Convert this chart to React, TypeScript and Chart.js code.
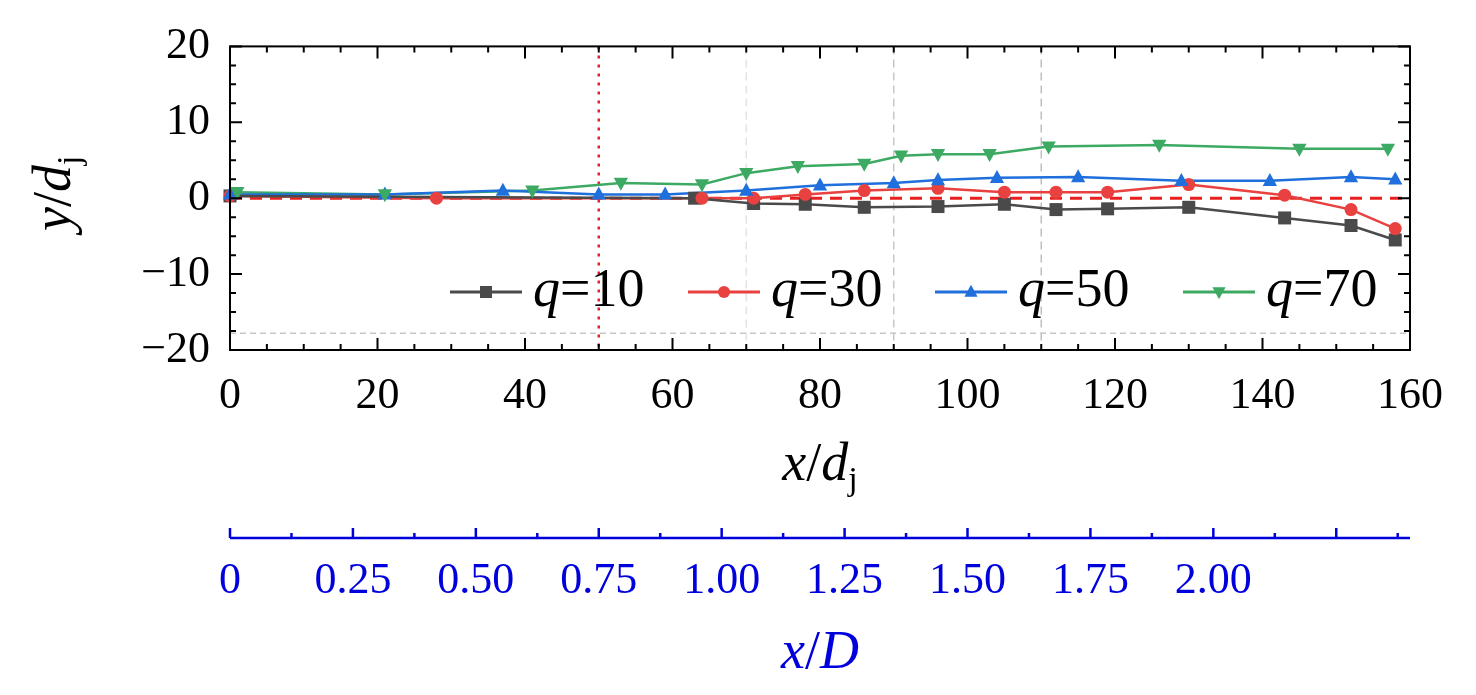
import React, { useEffect, useRef } from "react";
import { Chart, registerables } from "chart.js";
Chart.register(...registerables);

const seriesNames = ["10", "30", "50", "70"];
const colors = ["#4a4a4a", "#e8413f", "#1f6fdc", "#3daa63"];
const markers = ["rect", "circle", "triangle", "triangleDown"];
const q10X = [0, 63, 71, 78, 86, 96, 105, 112, 119, 130, 143, 152, 158];
const q10Y = [0.3, 0, -0.7, -0.8, -1.2, -1.1, -0.8, -1.5, -1.4, -1.2, -2.6, -3.6, -5.5];
const q30X = [0, 28, 64, 71, 78, 86, 96, 105, 112, 119, 130, 143, 152, 158];
const q30Y = [0.3, 0, 0, 0, 0.5, 1, 1.3, 0.8, 0.8, 0.8, 1.8, 0.4, -1.5, -4];
const q50X = [0, 21, 37, 50, 59, 70, 80, 90, 96, 104, 115, 129, 141, 152, 158];
const q50Y = [0.5, 0.5, 1, 0.5, 0.5, 1, 1.7, 2, 2.4, 2.7, 2.8, 2.3, 2.3, 2.8, 2.5];
const q70X = [1, 21, 41, 53, 64, 70, 77, 86, 91, 96, 103, 111, 126, 145, 157];
const q70Y = [0.8, 0.5, 1, 2, 1.8, 3.3, 4.2, 4.5, 5.6, 5.8, 5.8, 6.8, 7, 6.5, 6.5];
const xsAll = [q10X, q30X, q50X, q70X];
const ysAll = [q10Y, q30Y, q50Y, q70Y];
const xDMax = 2.4;
const SERIF = "'Liberation Serif', 'DejaVu Serif', serif";

function drawMarker(ctx: CanvasRenderingContext2D, kind: string, x: number, y: number, r: number) {
  ctx.beginPath();
  if (kind === "rect") ctx.rect(x - r, y - r, 2 * r, 2 * r);
  else if (kind === "circle") ctx.arc(x, y, r, 0, Math.PI * 2);
  else if (kind === "triangle") { ctx.moveTo(x, y - r * 1.2); ctx.lineTo(x + r * 1.1, y + r * 0.8); ctx.lineTo(x - r * 1.1, y + r * 0.8); ctx.closePath(); }
  else { ctx.moveTo(x, y + r * 1.2); ctx.lineTo(x + r * 1.1, y - r * 0.8); ctx.lineTo(x - r * 1.1, y - r * 0.8); ctx.closePath(); }
  ctx.fill();
}

const deco = {
  id: "deco",
  beforeDatasetsDraw(chart: any) {
    const { ctx, chartArea: a, scales } = chart;
    const x = scales.x, y = scales.y;
    ctx.save();
    ctx.lineWidth = 1.5;
    const vline = (v: number, col: string, dash: number[]) => {
      ctx.strokeStyle = col; ctx.setLineDash(dash); ctx.beginPath();
      ctx.moveTo(x.getPixelForValue(v), a.top); ctx.lineTo(x.getPixelForValue(v), a.bottom); ctx.stroke();
    };
    vline(70, "#e4e4e4", [8, 5]);
    vline(90, "#c8c8c8", [8, 5]);
    vline(110, "#c0c0c0", [8, 5]);
    ctx.strokeStyle = "#c8c8c8"; ctx.setLineDash([6, 4]); ctx.beginPath();
    ctx.moveTo(a.left, y.getPixelForValue(-17.8)); ctx.lineTo(a.right, y.getPixelForValue(-17.8)); ctx.stroke();
    ctx.lineWidth = 2.5; ctx.strokeStyle = "#e82020"; ctx.setLineDash([3, 6]);
    ctx.beginPath(); ctx.moveTo(x.getPixelForValue(50), a.top); ctx.lineTo(x.getPixelForValue(50), a.bottom); ctx.stroke();
    ctx.setLineDash([12, 8]); ctx.lineWidth = 3;
    ctx.beginPath(); ctx.moveTo(a.left, y.getPixelForValue(0)); ctx.lineTo(a.right, y.getPixelForValue(0)); ctx.stroke();
    ctx.restore();
  },
  afterDraw(chart: any) {
    const { ctx, chartArea: a, scales } = chart;
    const x = scales.x, y = scales.y, x2 = scales.x2;
    ctx.save();
    ctx.strokeStyle = "#000"; ctx.lineWidth = 2; ctx.setLineDash([]);
    ctx.strokeRect(a.left, a.top, a.right - a.left, a.bottom - a.top);
    for (let v = 0; v <= 160; v += 5) {
      const p = x.getPixelForValue(v); const L = v % 20 === 0 ? 12 : 6;
      ctx.beginPath(); ctx.moveTo(p, a.bottom); ctx.lineTo(p, a.bottom - L);
      ctx.moveTo(p, a.top); ctx.lineTo(p, a.top + L); ctx.stroke();
    }
    for (let v = -20; v <= 20; v += 2.5) {
      const p = y.getPixelForValue(v); const L = v % 10 === 0 ? 12 : 6;
      ctx.beginPath(); ctx.moveTo(a.left, p); ctx.lineTo(a.left + L, p);
      ctx.moveTo(a.right, p); ctx.lineTo(a.right - L, p); ctx.stroke();
    }
    ctx.strokeStyle = "#0000dd"; ctx.lineWidth = 2.5;
    const ay = x2.top + 1;
    ctx.beginPath(); ctx.moveTo(a.left, ay); ctx.lineTo(a.right, ay); ctx.stroke();
    for (let v = 0; v <= 2.4; v += 0.125) {
      const p = x2.getPixelForValue(v); const L = Math.round(v * 8) % 2 === 0 ? 10 : 5;
      ctx.beginPath(); ctx.moveTo(p, ay); ctx.lineTo(p, ay - L); ctx.stroke();
    }
    const F = 54, FS = 34;
    const italicSub = (cx: number, cy: number, a1: string, mid: string, sub: string, col: string) => {
      ctx.fillStyle = col; ctx.textBaseline = "alphabetic";
      ctx.font = `italic ${F}px ${SERIF}`;
      const w1 = ctx.measureText(a1).width;
      ctx.font = `${F}px ${SERIF}`; const wm = ctx.measureText("/").width;
      ctx.font = `italic ${F}px ${SERIF}`; const w2 = ctx.measureText(mid).width;
      ctx.font = `${FS}px ${SERIF}`; const w3 = sub ? ctx.measureText(sub).width : 0;
      let sx = cx - (w1 + wm + w2 + w3) / 2;
      ctx.textAlign = "left";
      ctx.font = `italic ${F}px ${SERIF}`; ctx.fillText(a1, sx, cy); sx += w1;
      ctx.font = `${F}px ${SERIF}`; ctx.fillText("/", sx, cy); sx += wm;
      ctx.font = `italic ${F}px ${SERIF}`; ctx.fillText(mid, sx, cy); sx += w2;
      if (sub) { ctx.font = `${FS}px ${SERIF}`; ctx.fillText(sub, sx, cy + 10); }
    };
    italicSub((a.left + a.right) / 2, 480 - 8, "x", "d", "j", "#000");
    italicSub((a.left + a.right) / 2, 668 - 8, "x", "D", "", "#0000dd");
    ctx.save(); ctx.translate(62, (a.top + a.bottom) / 2 - 5); ctx.rotate(-Math.PI / 2);
    italicSub(0, 0, "y", "d", "j", "#000"); ctx.restore();
    const ly = 292 - 8;
    const lx = [450, 688, 935, 1183].map(v => v - 8);
    seriesNames.forEach((n, i) => {
      ctx.strokeStyle = colors[i]; ctx.fillStyle = colors[i]; ctx.lineWidth = 3;
      ctx.beginPath(); ctx.moveTo(lx[i], ly); ctx.lineTo(lx[i] + 72, ly); ctx.stroke();
      drawMarker(ctx, markers[i], lx[i] + 36, ly, 6);
      ctx.fillStyle = "#000"; ctx.textAlign = "left"; ctx.textBaseline = "middle";
      ctx.font = `italic ${F}px ${SERIF}`; ctx.fillText("q", lx[i] + 83, ly);
      const wq = ctx.measureText("q").width;
      ctx.font = `${F}px ${SERIF}`; ctx.fillText("=" + n, lx[i] + 83 + wq, ly);
    });
    ctx.restore();
  },
};

const markerPlugin = {
  id: "mk",
  afterDatasetsDraw(chart: any) {
    const { ctx } = chart;
    ctx.save();
    chart.data.datasets.forEach((ds: any, i: number) => {
      const meta = chart.getDatasetMeta(i);
      ctx.fillStyle = colors[i];
      meta.data.forEach((pt: any) => drawMarker(ctx, markers[i], pt.x, pt.y, 6.5));
    });
    ctx.restore();
  },
};

export default function App() {
  const ref = useRef<HTMLCanvasElement>(null);
  useEffect(() => {
    const chart = new Chart(ref.current!, {
      type: "scatter",
      data: {
        datasets: seriesNames.map((n, i) => ({
          label: "q=" + n,
          data: xsAll[i].map((xv, k) => ({ x: xv, y: ysAll[i][k] })),
          showLine: true,
          borderColor: colors[i],
          backgroundColor: colors[i],
          borderWidth: 2.5,
          pointRadius: 0,
        })),
      },
      options: {
        animation: false,
        responsive: false,
        layout: { padding: { top: 7, right: 58 } },
        plugins: { legend: { display: false }, tooltip: { enabled: false } },
        scales: {
          x: {
            type: "linear", min: 0, max: 160, position: "bottom",
            grid: { display: false }, border: { display: false },
            ticks: { stepSize: 20, color: "#000", font: { size: 44, family: SERIF }, padding: 12, maxRotation: 0 },
            afterFit: (s: any) => { s.height = 187; },
          },
          x2: {
            type: "linear", min: 0, max: xDMax, position: "bottom",
            grid: { display: false }, border: { display: false },
            ticks: {
              stepSize: 0.25, color: "#0000dd", font: { size: 44, family: SERIF }, padding: 10, maxRotation: 0,
              callback: (v: any) => (v === 0 ? "0" : Number(v) > 2.3 ? "" : Number(v).toFixed(2)),
            },
            afterFit: (s: any) => { s.height = 150; },
          },
          y: {
            type: "linear", min: -20, max: 20,
            grid: { display: false }, border: { display: false },
            ticks: {
              stepSize: 10, color: "#000", font: { size: 44, family: SERIF }, padding: 12,
              callback: (v: any) => (Number(v) < 0 ? "\u2212" + Math.abs(Number(v)) : String(v)),
            },
            afterFit: (s: any) => { s.width = 222; },
          },
        },
      },
      plugins: [deco, markerPlugin],
    } as any);
    return () => chart.destroy();
  }, []);
  return <canvas ref={ref} width={1460} height={679} style={{ display: "block" }} />;
}
